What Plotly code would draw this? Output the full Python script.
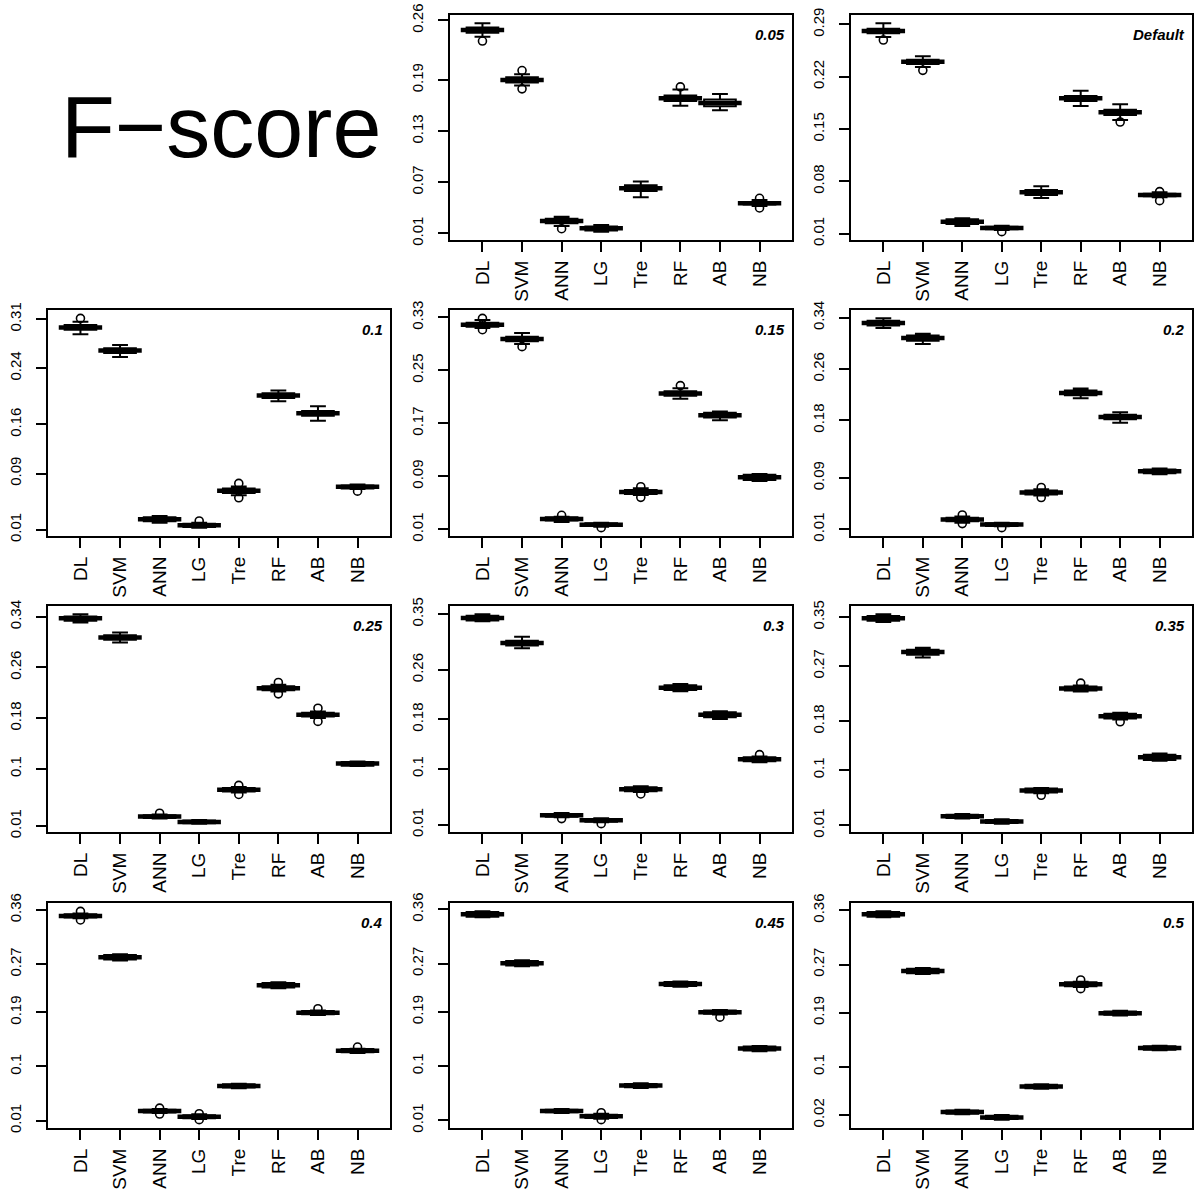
import plotly.graph_objects as go

FONT = "Liberation Sans, Arial, sans-serif"
categories = ["DL", "SVM", "ANN", "LG", "Tre", "RF", "AB", "NB"]

# ---------------- data ----------------
# panel 0.05
p005_med = [0.2486, 0.1901, 0.0245, 0.0159, 0.0630, 0.1686, 0.1631, 0.0453]
p005_q1 = [0.2455, 0.1870, 0.0218, 0.0135, 0.0598, 0.1654, 0.1592, 0.0438]
p005_q3 = [0.2517, 0.1933, 0.0273, 0.0182, 0.0665, 0.1717, 0.1670, 0.0469]
p005_lo = [0.2408, 0.1835, 0.0186, 0.0120, 0.0524, 0.1599, 0.1544, 0.0422]
p005_hi = [0.2565, 0.1968, 0.0296, 0.0198, 0.0708, 0.1788, 0.1737, 0.0492]
p005_out_cat = ["DL", "SVM", "SVM", "ANN", "RF", "NB", "NB"]
p005_out_val = [0.2357, 0.2011, 0.1796, 0.0155, 0.1819, 0.0512, 0.0398]
p005_ticks = [0.01, 0.07, 0.13, 0.19, 0.26]

# panel Default
pdef_med = [0.2811, 0.2401, 0.0261, 0.0176, 0.0653, 0.1911, 0.1723, 0.0617]
pdef_q1 = [0.2780, 0.2370, 0.0229, 0.0158, 0.0617, 0.1875, 0.1688, 0.0600]
pdef_q3 = [0.2843, 0.2428, 0.0292, 0.0194, 0.0684, 0.1942, 0.1759, 0.0635]
pdef_lo = [0.2731, 0.2330, 0.0203, 0.0149, 0.0577, 0.1808, 0.1621, 0.0586]
pdef_hi = [0.2914, 0.2473, 0.0305, 0.0207, 0.0733, 0.2013, 0.1830, 0.0653]
pdef_out_cat = ["DL", "SVM", "LG", "AB", "NB", "NB"]
pdef_out_val = [0.2691, 0.2285, 0.0127, 0.1594, 0.0662, 0.0542]
pdef_ticks = [0.01, 0.08, 0.15, 0.22, 0.29]

# panel 0.1
p010_med = [0.2980, 0.2651, 0.0248, 0.0162, 0.0654, 0.2011, 0.1758, 0.0711]
p010_q1 = [0.2947, 0.2617, 0.0219, 0.0138, 0.0621, 0.1977, 0.1724, 0.0688]
p010_q3 = [0.3014, 0.2684, 0.0277, 0.0186, 0.0688, 0.2044, 0.1791, 0.0730]
p010_lo = [0.2885, 0.2560, 0.0200, 0.0129, 0.0592, 0.1930, 0.1653, 0.0678]
p010_hi = [0.3062, 0.2732, 0.0296, 0.0200, 0.0716, 0.2082, 0.1858, 0.0745]
p010_out_cat = ["DL", "LG", "Tre", "Tre", "NB"]
p010_out_val = [0.3110, 0.0224, 0.0759, 0.0554, 0.0649]
p010_ticks = [0.01, 0.09, 0.16, 0.24, 0.31]

# panel 0.15
p015_med = [0.3190, 0.2974, 0.0256, 0.0170, 0.0663, 0.2150, 0.1823, 0.0884]
p015_q1 = [0.3160, 0.2939, 0.0231, 0.0150, 0.0633, 0.2115, 0.1788, 0.0844]
p015_q3 = [0.3220, 0.3009, 0.0281, 0.0190, 0.0693, 0.2185, 0.1858, 0.0924]
p015_lo = [0.3140, 0.2898, 0.0211, 0.0140, 0.0617, 0.2070, 0.1748, 0.0828]
p015_hi = [0.3260, 0.3064, 0.0291, 0.0200, 0.0718, 0.2230, 0.1878, 0.0934]
p015_out_cat = ["DL", "DL", "SVM", "ANN", "LG", "Tre", "Tre", "RF"]
p015_out_val = [0.3285, 0.3114, 0.2858, 0.0311, 0.0125, 0.0743, 0.0582, 0.2270]
p015_ticks = [0.01, 0.09, 0.17, 0.25, 0.33]

# panel 0.2
p020_med = [0.3316, 0.3082, 0.0251, 0.0173, 0.0673, 0.2227, 0.1852, 0.1007]
p020_q1 = [0.3280, 0.3040, 0.0225, 0.0152, 0.0642, 0.2190, 0.1815, 0.0976]
p020_q3 = [0.3353, 0.3124, 0.0282, 0.0194, 0.0705, 0.2263, 0.1888, 0.1033]
p020_lo = [0.3238, 0.2989, 0.0204, 0.0147, 0.0627, 0.2143, 0.1763, 0.0960]
p020_hi = [0.3390, 0.3150, 0.0298, 0.0204, 0.0726, 0.2295, 0.1925, 0.1049]
p020_out_cat = ["ANN", "ANN", "LG", "Tre", "Tre"]
p020_out_val = [0.0324, 0.0189, 0.0126, 0.0752, 0.0595]
p020_ticks = [0.01, 0.09, 0.18, 0.26, 0.34]

# panel 0.25
p025_med = [0.3375, 0.3073, 0.0248, 0.0163, 0.0671, 0.2274, 0.1856, 0.1084]
p025_q1 = [0.3337, 0.3036, 0.0227, 0.0142, 0.0645, 0.2242, 0.1825, 0.1052]
p025_q3 = [0.3406, 0.3110, 0.0269, 0.0185, 0.0698, 0.2306, 0.1888, 0.1110]
p025_lo = [0.3311, 0.2994, 0.0216, 0.0137, 0.0629, 0.2221, 0.1803, 0.1047]
p025_hi = [0.3438, 0.3152, 0.0280, 0.0195, 0.0714, 0.2327, 0.1904, 0.1116]
p025_out_cat = ["ANN", "Tre", "Tre", "RF", "RF", "AB", "AB"]
p025_out_val = [0.0301, 0.0740, 0.0597, 0.2364, 0.2184, 0.1957, 0.1750]
p025_ticks = [0.01, 0.1, 0.18, 0.26, 0.34]

# panel 0.3
p030_med = [0.3436, 0.3032, 0.0251, 0.0170, 0.0670, 0.2311, 0.1875, 0.1154]
p030_q1 = [0.3398, 0.2994, 0.0229, 0.0148, 0.0638, 0.2273, 0.1832, 0.1122]
p030_q3 = [0.3473, 0.3070, 0.0272, 0.0191, 0.0703, 0.2349, 0.1913, 0.1187]
p030_lo = [0.3382, 0.2946, 0.0218, 0.0138, 0.0627, 0.2252, 0.1805, 0.1106]
p030_hi = [0.3495, 0.3134, 0.0288, 0.0202, 0.0719, 0.2370, 0.1929, 0.1198]
p030_out_cat = ["ANN", "LG", "Tre", "NB"]
p030_out_val = [0.0197, 0.0116, 0.0595, 0.1230]
p030_ticks = [0.01, 0.1, 0.18, 0.26, 0.35]

# panel 0.35
p035_med = [0.3479, 0.2929, 0.0247, 0.0160, 0.0667, 0.2335, 0.1882, 0.1212]
p035_q1 = [0.3441, 0.2885, 0.0220, 0.0138, 0.0634, 0.2302, 0.1844, 0.1168]
p035_q3 = [0.3517, 0.2967, 0.0274, 0.0187, 0.0700, 0.2367, 0.1920, 0.1250]
p035_lo = [0.3419, 0.2841, 0.0209, 0.0127, 0.0623, 0.2285, 0.1828, 0.1152]
p035_hi = [0.3544, 0.2999, 0.0285, 0.0198, 0.0710, 0.2384, 0.1937, 0.1272]
p035_out_cat = ["Tre", "RF", "AB"]
p035_out_val = [0.0590, 0.2422, 0.1790]
p035_ticks = [0.01, 0.1, 0.18, 0.27, 0.35]

# panel 0.4
p040_med = [0.3501, 0.2816, 0.0259, 0.0166, 0.0676, 0.2349, 0.1894, 0.1263]
p040_q1 = [0.3474, 0.2777, 0.0237, 0.0138, 0.0649, 0.2311, 0.1866, 0.1236]
p040_q3 = [0.3529, 0.2854, 0.0281, 0.0188, 0.0703, 0.2388, 0.1921, 0.1290]
p040_lo = [0.3463, 0.2761, 0.0226, 0.0127, 0.0638, 0.2300, 0.1856, 0.1225]
p040_hi = [0.3540, 0.2865, 0.0292, 0.0204, 0.0714, 0.2399, 0.1932, 0.1296]
p040_out_cat = ["DL", "DL", "ANN", "ANN", "LG", "LG", "AB", "NB"]
p040_out_val = [0.3578, 0.3435, 0.0308, 0.0210, 0.0215, 0.0116, 0.1960, 0.1323]
p040_ticks = [0.01, 0.1, 0.19, 0.27, 0.36]

# panel 0.45
p045_med = [0.3518, 0.2706, 0.0254, 0.0166, 0.0676, 0.2360, 0.1894, 0.1290]
p045_q1 = [0.3479, 0.2667, 0.0232, 0.0138, 0.0649, 0.2327, 0.1866, 0.1258]
p045_q3 = [0.3556, 0.2744, 0.0276, 0.0193, 0.0703, 0.2393, 0.1921, 0.1323]
p045_lo = [0.3468, 0.2656, 0.0221, 0.0127, 0.0638, 0.2316, 0.1856, 0.1247]
p045_hi = [0.3567, 0.2755, 0.0287, 0.0210, 0.0714, 0.2404, 0.1932, 0.1334]
p045_out_cat = ["LG", "LG", "AB"]
p045_out_val = [0.0226, 0.0111, 0.1812]
p045_ticks = [0.01, 0.1, 0.19, 0.27, 0.36]

# panel 0.5
p050_med = [0.3534, 0.2591, 0.0250, 0.0161, 0.0674, 0.2371, 0.1892, 0.1313]
p050_q1 = [0.3495, 0.2553, 0.0222, 0.0134, 0.0646, 0.2338, 0.1864, 0.1286]
p050_q3 = [0.3572, 0.2630, 0.0277, 0.0189, 0.0701, 0.2404, 0.1919, 0.1341]
p050_lo = [0.3484, 0.2542, 0.0211, 0.0123, 0.0635, 0.2327, 0.1853, 0.1274]
p050_hi = [0.3583, 0.2641, 0.0288, 0.0200, 0.0712, 0.2415, 0.1930, 0.1352]
p050_out_cat = ["RF", "RF"]
p050_out_val = [0.2443, 0.2299]
p050_ticks = [0.02, 0.1, 0.19, 0.27, 0.36]

panel_labels = ["0.05", "Default", "0.1", "0.15", "0.2", "0.25",
                "0.3", "0.35", "0.4", "0.45", "0.5"]
title_text = "F\u2212score"

panels = [
    (p005_med, p005_q1, p005_q3, p005_lo, p005_hi, p005_out_cat, p005_out_val, p005_ticks),
    (pdef_med, pdef_q1, pdef_q3, pdef_lo, pdef_hi, pdef_out_cat, pdef_out_val, pdef_ticks),
    (p010_med, p010_q1, p010_q3, p010_lo, p010_hi, p010_out_cat, p010_out_val, p010_ticks),
    (p015_med, p015_q1, p015_q3, p015_lo, p015_hi, p015_out_cat, p015_out_val, p015_ticks),
    (p020_med, p020_q1, p020_q3, p020_lo, p020_hi, p020_out_cat, p020_out_val, p020_ticks),
    (p025_med, p025_q1, p025_q3, p025_lo, p025_hi, p025_out_cat, p025_out_val, p025_ticks),
    (p030_med, p030_q1, p030_q3, p030_lo, p030_hi, p030_out_cat, p030_out_val, p030_ticks),
    (p035_med, p035_q1, p035_q3, p035_lo, p035_hi, p035_out_cat, p035_out_val, p035_ticks),
    (p040_med, p040_q1, p040_q3, p040_lo, p040_hi, p040_out_cat, p040_out_val, p040_ticks),
    (p045_med, p045_q1, p045_q3, p045_lo, p045_hi, p045_out_cat, p045_out_val, p045_ticks),
    (p050_med, p050_q1, p050_q3, p050_lo, p050_hi, p050_out_cat, p050_out_val, p050_ticks),
]

# ---------------- layout geometry (pixels) ----------------
W, H = 1195, 1194
col_px = [(48, 390), (450, 792), (851, 1192)]
row_px = [(15, 240), (310, 536), (606, 832), (903, 1128)]
cells = [(0, 1), (0, 2), (1, 0), (1, 1), (1, 2), (2, 0), (2, 1), (2, 2),
         (3, 0), (3, 1), (3, 2)]

fig = go.Figure()
layout = dict(
    width=W, height=H, autosize=False,
    margin=dict(l=0, r=0, t=0, b=0, pad=0, autoexpand=False),
    paper_bgcolor="white", plot_bgcolor="white",
    showlegend=False,
    font=dict(family=FONT, color="black"),
)
annotations = []

for i, (med, q1, q3, lo, hi, ocat, oval, ticks) in enumerate(panels):
    r, c = cells[i]
    n = i + 1
    xa = "x" if n == 1 else f"x{n}"
    ya = "y" if n == 1 else f"y{n}"
    xkey = "xaxis" if n == 1 else f"xaxis{n}"
    ykey = "yaxis" if n == 1 else f"yaxis{n}"

    fig.add_trace(go.Box(
        x=categories, q1=q1, median=med, q3=q3,
        lowerfence=lo, upperfence=hi,
        width=0.8, whiskerwidth=0.5,
        line=dict(color="black", width=2), fillcolor="white",
        boxpoints=False, xaxis=xa, yaxis=ya, hoverinfo="skip",
    ))
    # thick median bars (R medlwd = 3)
    fig.add_trace(go.Scatter(
        x=categories, y=med, mode="markers",
        marker=dict(symbol="line-ew", size=31,
                    line=dict(color="black", width=4.5)),
        xaxis=xa, yaxis=ya, hoverinfo="skip",
    ))
    # outliers
    fig.add_trace(go.Scatter(
        x=ocat, y=oval, mode="markers",
        marker=dict(symbol="circle-open", size=8, color="black",
                    line=dict(color="black", width=1.6)),
        xaxis=xa, yaxis=ya, hoverinfo="skip",
    ))

    allv = lo + hi + oval
    vmin, vmax = min(allv), max(allv)
    pad = 0.04 * (vmax - vmin)

    x0, x1 = col_px[c]
    y0, y1 = row_px[r]
    layout[xkey] = dict(
        domain=[x0 / W, x1 / W], anchor=ya, automargin=False,
        type="category", categoryorder="array", categoryarray=categories,
        range=[-0.82, 7.82],
        showline=True, mirror=True, linecolor="black", linewidth=2,
        ticks="outside", ticklen=10, tickwidth=1.5, tickcolor="black",
        tickangle=-90, tickfont=dict(family=FONT, size=19, color="black"),
        ticklabelstandoff=1,
        showgrid=False, zeroline=False, fixedrange=True,
    )
    layout[ykey] = dict(
        domain=[1 - y1 / H, 1 - y0 / H], anchor=xa, automargin=False,
        range=[vmin - pad, vmax + pad],
        tickmode="array", tickvals=ticks, ticktext=[f"{t:g}" for t in ticks],
        showline=True, mirror=True, linecolor="black", linewidth=2,
        ticks="outside", ticklen=10, tickwidth=1.5, tickcolor="black",
        tickangle=-90, tickfont=dict(family=FONT, size=15, color="black"),
        ticklabelstandoff=9,
        showgrid=False, zeroline=False, fixedrange=True,
    )
    annotations.append(dict(
        text=panel_labels[i], xref=f"{xa} domain", yref=f"{ya} domain",
        x=1, y=1, xanchor="right", yanchor="top", xshift=-5, yshift=-9,
        showarrow=False,
        font=dict(family=FONT, size=15, color="black", weight="bold", style="italic"),
    ))

annotations.append(dict(
    text=title_text, xref="paper", yref="paper",
    x=221 / W, y=1 - 126 / H, xanchor="center", yanchor="middle",
    showarrow=False, font=dict(family=FONT, size=88, color="black"),
))
layout["annotations"] = annotations
fig.update_layout(**layout)
fig.write_html("out.html", config={"displayModeBar": False})

# remove the default page margin so the figure sits at the window origin
with open("out.html", "r", encoding="utf-8") as f:
    html = f.read()
html = html.replace("<head>", "<head><style>html,body{margin:0;padding:0;overflow:hidden;}</style>", 1)
with open("out.html", "w", encoding="utf-8") as f:
    f.write(html)
